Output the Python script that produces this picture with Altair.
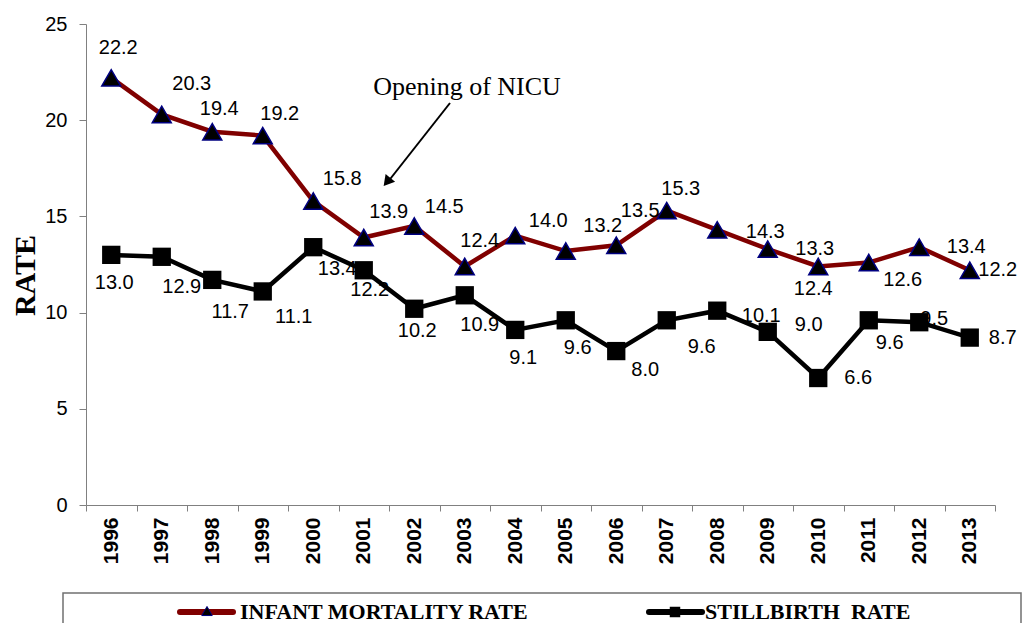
import altair as alt
import pandas as pd

# ---- data ----
years = [str(y) for y in range(1996, 2014)]
infant_mortality = [22.2, 20.3, 19.4, 19.2, 15.8, 13.9, 14.5, 12.4, 14.0, 13.2,
                    13.5, 15.3, 14.3, 13.3, 12.4, 12.6, 13.4, 12.2]
stillbirth = [13.0, 12.9, 11.7, 11.1, 13.4, 12.2, 10.2, 10.9, 9.1, 9.6,
              8.0, 9.6, 10.1, 9.0, 6.6, 9.6, 9.5, 8.7]
y_ticks = [0, 5, 10, 15, 20, 25]

# ---- label placement (pixel offsets from each point) ----
imr_label_dx = [7, 30, 7, 17, 29, 25, 30, 15, 33, 37, 24, 14, 48, 47, -5, 34, 47, 28]
imr_label_dy = [-30, -30, -23, -22, -22, -26, -19, -25, -15, -25, -34, -22, 2, 0, 23, 17, 0, 0]
sb_label_dx = [3, 20, 18, 31, 24, 6, 3, 15, 8, 12, 29, 35, 44, 41, 40, 21, 15, 33]
sb_label_dy = [28, 30, 32, 26, 22, 20, 22, 30, 28, 28, 19, 27, 5, -7, 0, 23, -3, 0]

df = pd.DataFrame({"Year": years, "IMR": infant_mortality, "SBR": stillbirth})

W, H = 909, 481
RED = "#800000"
NAVY = "#000080"
SANS = "Liberation Sans"
SERIF = "Liberation Serif"

x_enc = alt.X(
    "Year:O",
    bandPosition=0.5,
    scale=alt.Scale(type="band", paddingInner=0, paddingOuter=0),
    axis=alt.Axis(
        title=None, labelAngle=-90, labelFont=SANS, labelFontSize=21,
        labelFontWeight="bold", labelColor="black", labelPadding=6,
        tickBand="extent", tickSize=6, tickColor="#808080",
        domainColor="#808080", grid=False,
    ),
)


def y_enc(field):
    return alt.Y(
        f"{field}:Q",
        scale=alt.Scale(domain=[0, 25], nice=False),
        axis=alt.Axis(
            values=y_ticks, title="RATE", titleFont=SERIF, titleFontSize=30,
            titleFontWeight="bold", titleColor="black", titleAngle=-90,
            titleBaseline="alphabetic", titleAlign="center",
            titleX=-52, titleY=251,
            labelFont=SANS, labelFontSize=20, labelColor="black", labelPadding=12,
            tickSize=7, tickColor="#808080", domainColor="#808080", grid=False,
        ),
    )


base = alt.Chart(df)

imr_line = base.mark_line(color=RED, strokeWidth=4.5).encode(x=x_enc, y=y_enc("IMR"))
sb_line = base.mark_line(color="black", strokeWidth=4.5).encode(x=x_enc, y=y_enc("SBR"))
imr_pts = base.mark_point(shape="triangle-up", filled=True, fill="black", stroke=NAVY,
                          strokeWidth=1.5, size=360, opacity=1).encode(x=x_enc, y=y_enc("IMR"))
sb_pts = base.mark_point(shape="square", filled=True, fill="black", size=335,
                         opacity=1).encode(x=x_enc, y=y_enc("SBR"))

layers = [imr_line, sb_line, imr_pts, sb_pts]

for i, yr in enumerate(years):
    layers.append(
        base.transform_filter(alt.datum.Year == yr)
        .mark_text(font=SANS, fontSize=20, color="black",
                   dx=imr_label_dx[i], dy=imr_label_dy[i])
        .encode(x=x_enc, y=y_enc("IMR"), text=alt.Text("IMR:Q", format=".1f"))
    )
    layers.append(
        base.transform_filter(alt.datum.Year == yr)
        .mark_text(font=SANS, fontSize=20, color="black",
                   dx=sb_label_dx[i], dy=sb_label_dy[i])
        .encode(x=x_enc, y=y_enc("SBR"), text=alt.Text("SBR:Q", format=".1f"))
    )

deco = alt.Chart(pd.DataFrame({"k": [0]}))

# annotation
layers.append(deco.mark_text(font=SERIF, fontSize=26, color="black", align="center",
                             baseline="alphabetic", text="Opening of NICU")
              .encode(x=alt.value(381), y=alt.value(71)))
layers.append(deco.mark_rule(color="black", strokeWidth=2)
              .encode(x=alt.value(364), y=alt.value(79), x2=alt.value(301), y2=alt.value(159)))
layers.append(deco.mark_point(shape="triangle-up", filled=True, fill="black", size=150,
                              angle=219, opacity=1)
              .encode(x=alt.value(301), y=alt.value(158)))

# legend
layers.append(deco.mark_rect(fillOpacity=0, stroke="#707070", strokeWidth=1.5)
              .encode(x=alt.value(-23), x2=alt.value(935), y=alt.value(569), y2=alt.value(700)))
layers.append(deco.mark_rule(color=RED, strokeWidth=6, strokeCap="round")
              .encode(x=alt.value(94), x2=alt.value(147), y=alt.value(588)))
layers.append(deco.mark_point(shape="triangle-up", filled=True, fill="black", stroke=NAVY,
                              strokeWidth=1, size=110, opacity=1)
              .encode(x=alt.value(121), y=alt.value(587)))
layers.append(deco.mark_text(font=SERIF, fontSize=22, fontWeight="bold", color="black",
                             align="left", baseline="middle", text="INFANT MORTALITY RATE")
              .encode(x=alt.value(154), y=alt.value(588)))
layers.append(deco.mark_rule(color="black", strokeWidth=6, strokeCap="round")
              .encode(x=alt.value(563), x2=alt.value(616), y=alt.value(588)))
layers.append(deco.mark_point(shape="square", filled=True, fill="black", size=110, opacity=1)
              .encode(x=alt.value(589), y=alt.value(588)))
layers.append(deco.mark_text(font=SERIF, fontSize=22, fontWeight="bold", color="black",
                             align="left", baseline="middle", text="STILLBIRTH\u00a0 RATE")
              .encode(x=alt.value(619), y=alt.value(588)))

chart = alt.layer(*layers).properties(
    width=W, height=H,
    autosize=alt.AutoSizeParams(type="none"),
    padding={"left": 78, "top": 16, "right": 28, "bottom": 118},
    background="white",
).configure_view(stroke=None)

chart.save("out.html", embed_options={"renderer": "svg", "actions": False})
